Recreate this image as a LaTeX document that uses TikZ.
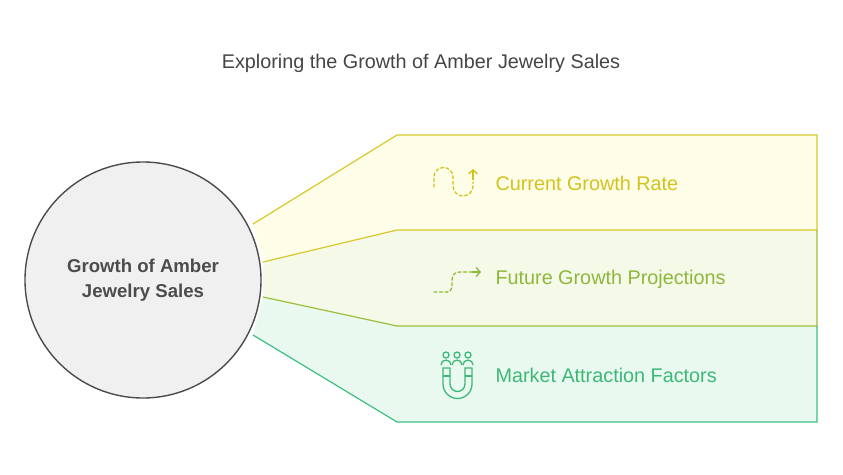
\documentclass[tikz,border=0pt]{standalone}
\usepackage{fontspec}
\setmainfont{Liberation Sans}
\usetikzlibrary{arrows.meta}
\definecolor{cy}{HTML}{D9C82A}\definecolor{fy}{HTML}{FEFDE8}\definecolor{ty}{HTML}{D4C21C}
\definecolor{cg}{HTML}{9DBE3A}\definecolor{fg}{HTML}{F5F9E8}\definecolor{tg}{HTML}{8DB83A}
\definecolor{cmk}{HTML}{3CC07F}\definecolor{fmk}{HTML}{EAF9F0}\definecolor{tmk}{HTML}{3BB877}
\begin{document}
\begin{tikzpicture}[x=1pt,y=-1pt,
  lbl/.style={anchor=west,font=\fontsize{19.8}{23}\selectfont},
  ic/.style={line width=1.3pt,line cap=round,dash pattern=on 3pt off 2.5pt}]
\useasboundingbox (0,0) rectangle (843,474);
\node (title) at (421,63) {\fontsize{19.8}{23}\selectfont\color[HTML]{444444}Exploring the Growth of Amber Jewelry Sales};
\fill[fmk] (253,335) -- (397,422) -- (817,422) -- (817,326) -- (397,326) -- (263,297) -- cycle;
\fill[fg] (263,297) -- (397,326) -- (817,326) -- (817,230) -- (397,230) -- (263,262) -- cycle;
\fill[fy] (263,262) -- (397,230) -- (817,230) -- (817,135) -- (397,135) -- (253,224) -- cycle;
\draw[cy,line width=1.2pt] (253,224) -- (397,135) -- (817,135) -- (817,230) -- (397,230) -- (263,262);
\draw[cg,line width=1.2pt] (817,230) -- (817,326) -- (397,326) -- (263,297);
\draw[cmk,line width=1.2pt] (817,326) -- (817,422) -- (397,422) -- (253,335);
\node[circle,draw=black!70,fill=black!6,line width=1.4pt,minimum size=236pt,align=center,
  font=\bfseries\fontsize{18.6}{25}\selectfont,text=black!70] (c) at (143,280) {Growth of Amber\\Jewelry Sales};
\node[lbl,text=ty] (l1) at (492,183) {Current Growth Rate};
\node[lbl,text=tg] (l2) at (492,279) {Future Growth Projections};
\node[lbl,text=tmk] (l3) at (492,375) {Market Attraction Factors};
% icons
\draw[ty,ic] (434,187) -- (434,177) arc[start angle=180,end angle=360,radius=9.5] -- (453,186) arc[start angle=180,end angle=0,radius=10] -- (473,182);
\draw[ty,line width=1.3pt,-{Straight Barb[length=4pt,width=9pt]}] (473,180) -- (473,169);
\draw[tg,ic] (434,292) -- (447,292) .. controls (452,292) and (452,287) .. (452,282) .. controls (452,274) and (455,272) .. (460,272) -- (472,272);
\draw[tg,line width=1.3pt,-{Straight Barb[length=4pt,width=9pt]}] (472,272) -- (481,272);
\begin{scope}[tmk,line width=1.3pt]
\foreach \x in {446,457,468}{\draw (\x,355) circle (3pt); \draw (\x-5,365) arc[start angle=180,end angle=360,radius=5] ;}
\draw (443,368) -- (443,384) arc[start angle=180,end angle=0,radius=14.5] -- (472,368) -- (465,368) -- (465,384) arc[start angle=0,end angle=180,radius=7.5] -- (450,368) -- cycle;
\draw (443,376) -- (450,376) (465,376) -- (472,376);
\end{scope}
\end{tikzpicture}
\end{document}
